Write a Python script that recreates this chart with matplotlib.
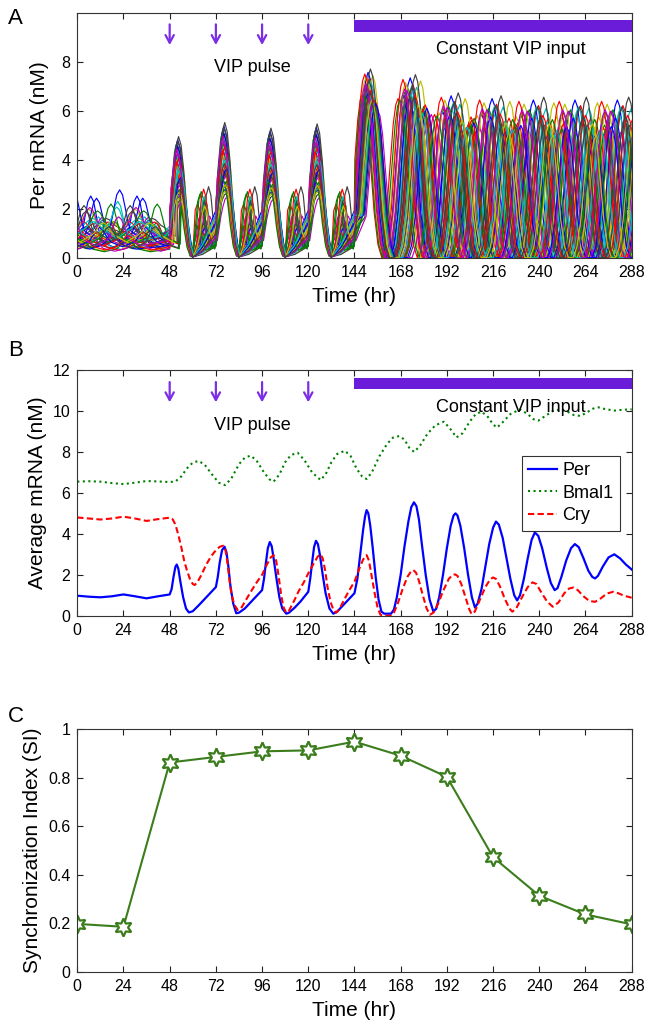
import matplotlib
matplotlib.use('Agg')
import matplotlib.pyplot as plt

plt.rcParams['font.family'] = ['Liberation Sans', 'DejaVu Sans']

# ── shared ─────────────────────────────────────────────────────────────────────
hours = [0, 24, 48, 72, 96, 120, 144, 168, 192, 216, 240, 264, 288]
pulse_times = [48, 72, 96, 120]
purple_bar = '#6a1cd8'
purple_arrow = '#7b2ee6'

# ── panel A: single-cell Per mRNA (42 cells, MATLAB colour cycle) ─────────────
cell_colors = ['#0000ff', '#008000', '#ff0000', '#00bfbf', '#bf00bf', '#bfbf00', '#404040']
rank = [-0.95, 0.42, -0.13, 0.78, -0.61, 0.05, 1.35, -0.37, 0.91, -1.52, 0.23, -0.74, 0.60, -0.05,
        0.33, -0.88, 1.05, -0.22, 0.70, -1.18, 0.12, 0.48, -0.56, 0.86, -0.30, 1.62, -0.81, 0.17,
        -0.45, 0.97, -1.05, 0.28, -0.66, 0.55, -0.17, 1.20, -1.35, 0.08, 0.74, -0.90, 0.38, -0.02]
amp_pulse = [0.92, 0.71, 1.05, 0.63, 0.98, 0.84, 0.55, 1.12, 0.77, 0.88, 0.95, 0.66, 1.02, 0.81,
             0.58, 1.08, 0.74, 0.93, 0.69, 0.86, 1.15, 0.61, 0.97, 0.79, 1.01, 0.52, 0.89, 0.73,
             1.06, 0.65, 0.91, 0.83, 0.99, 0.57, 1.10, 0.76, 0.68, 0.94, 0.87, 1.03, 0.62, 0.80]
amp_vip = [1.02, 0.94, 1.09, 0.90, 1.05, 0.97, 0.88, 1.13, 0.95, 1.00, 1.07, 0.92, 1.11, 0.98,
           0.89, 1.04, 0.96, 1.08, 0.91, 1.01, 1.15, 0.87, 1.06, 0.93, 1.03, 0.90, 1.10, 0.95,
           1.00, 0.92, 1.12, 0.97, 1.05, 0.88, 1.08, 0.94, 0.99, 1.02, 0.91, 1.06, 0.96, 1.01]
pre_base = [0.85, 0.52, 1.10, 0.70, 0.95, 0.40, 1.25, 0.62, 0.88, 1.02, 0.47, 0.76, 1.18, 0.58,
            0.93, 0.35, 0.81, 1.30, 0.66, 0.99, 0.55, 1.07, 0.73, 0.44, 0.90, 1.15, 0.61, 0.83,
            0.50, 1.21, 0.69, 0.97, 0.38, 0.86, 1.04, 0.64, 0.79, 0.45, 1.12, 0.72, 0.92, 0.57]
pre_phase = [4, 17, 9, 21, 12, 1, 15, 7, 19, 3, 11, 14, 6, 20, 10, 2, 16, 8, 13, 18, 5,
             22, 0, 9.5, 15.5, 6.5, 12.5, 3.5, 18.5, 10.5, 1.5, 20.5, 7.5, 14.5, 4.5, 11.5, 17.5,
             2.5, 8.5, 21.5, 13.5, 16.5]
pre_amp = [0.4, 0.9, 0.3, 1.6, 0.5, 0.7, 0.35, 1.9, 0.6, 0.45, 1.2, 0.3, 0.8, 0.55,
           1.5, 0.4, 0.65, 0.3, 1.0, 0.5, 0.75, 1.7, 0.35, 0.6, 0.45, 0.9, 0.25, 1.3,
           0.5, 0.7, 0.4, 1.1, 0.55, 0.3, 0.85, 0.6, 1.4, 0.45, 0.35, 0.95, 0.5, 0.7]
level = [1.2, 0.7, 1.6, 0.9, 1.4, 0.5, 1.8, 1.0, 0.6, 1.3, 1.5, 0.8, 1.1, 0.45,
         1.7, 0.95, 1.25, 0.65, 1.45, 0.85, 1.05, 1.9, 0.55, 1.35, 0.75, 1.15, 1.6, 0.9,
         1.3, 0.6, 1.0, 1.55, 0.8, 1.2, 0.7, 1.4, 0.5, 1.1, 1.75, 0.85, 1.25, 0.95]
minor = [0, 2.4, 0, 1.3, 1.8, 0, 2.9, 0, 1.1, 2.2, 0, 0, 1.5, 0, 1.2, 2.6, 0, 0, 2.0, 0, 1.4,
         0, 2.7, 0, 0, 1.7, 0, 2.3, 0, 1.0, 0, 2.5, 0, 0, 1.9, 0, 1.3, 2.8, 0, 0, 2.1, 0]

pulse_heights = [4.3, 4.8, 4.6, 4.75]
vip_peaks = [152, 175, 197, 219, 241, 263, 285, 307]
vip_spread = [2.5, 5.5, 7.5, 9.5, 11, 12, 12, 12]
vip_heights = [6.7, 6.5, 5.85, 5.75, 5.7, 5.7, 5.7, 5.7]

# peak shapes (offset in hr, fraction of peak height)
bump_dt = [-6, -4.5, -3, -1.5, 0, 1.5, 3, 4.5, 6]
bump_fr = [0.0, 0.2, 0.55, 0.88, 1.0, 0.88, 0.55, 0.2, 0.0]
resp_dt = [-3.5, -2.5, -1.2, 0, 1.3, 2.7, 4.2, 5.8, 7.5]
resp_fr = [0.35, 0.65, 0.92, 1.0, 0.93, 0.72, 0.4, 0.14, 0.02]
vip_dt = [-10, -8, -6, -4, -2.5, -1.2, 0, 1.2, 2.5, 4, 6, 8, 10]
vip_fr = [0.0, 0.08, 0.28, 0.6, 0.84, 0.96, 1.0, 0.96, 0.84, 0.6, 0.28, 0.08, 0.0]

# ── panel B: population averages ───────────────────────────────────────────────
per_t = [0, 6, 12, 18, 24, 30, 36, 42, 48, 49, 50, 51, 51.7, 52.5, 53.5, 55, 56.5, 58, 60, 63,
         66, 69, 72, 73, 74, 75.2, 76.5, 77.5, 78.5, 79.5, 81, 82.6, 84, 87, 90, 93, 96, 97, 98,
         99, 100, 101, 102, 103.5, 105, 106.5, 108.6, 110, 113, 116, 119, 120, 121, 122, 123, 124,
         125, 126, 127.5, 129, 131, 133, 135, 138, 141, 144, 145.5, 147, 148.5, 149.5, 150.3,
         151.2, 152.2, 153.5, 155, 156.5, 158, 159.5, 163, 164.5, 166, 168, 170, 172, 173.5,
         174.9, 176.2, 177.5, 179, 181, 183, 185, 186.5, 188, 190, 192, 194, 195.5, 196.5, 197.5,
         199, 201, 203, 205, 206.6, 208, 210, 212, 214, 216, 217.5, 219, 221, 223, 225, 227,
         228.5, 230, 232, 234, 236, 237.7, 239.5, 241.5, 244, 246, 248, 249.5, 251.5, 254, 256.5,
         258.5, 260.5, 263, 265.5, 267.5, 269, 270.5, 273, 276, 279, 282, 285, 288]
per_v = [0.98, 0.93, 0.9, 0.95, 1.04, 0.95, 0.85, 0.95, 1.04, 1.3, 1.9, 2.4, 2.5, 2.3, 1.7, 0.9,
         0.35, 0.16, 0.22, 0.5, 0.8, 1.1, 1.4, 1.9, 2.6, 3.2, 3.37, 3.1, 2.4, 1.5, 0.6, 0.12, 0.15,
         0.35, 0.65, 0.95, 1.25, 1.8, 2.6, 3.3, 3.6, 3.4, 2.8, 1.8, 0.9, 0.35, 0.1, 0.15, 0.4, 0.7,
         1.05, 1.17, 1.8, 2.6, 3.35, 3.66, 3.5, 3.0, 2.0, 1.1, 0.35, 0.1, 0.2, 0.5, 0.8, 1.1, 1.8,
         3.0, 4.2, 4.85, 5.16, 5.0, 4.4, 3.3, 1.9, 0.8, 0.2, 0.1, 0.1, 0.3, 0.9, 2.0, 3.4, 4.6,
         5.3, 5.54, 5.35, 4.7, 3.5, 2.0, 0.8, 0.2, 0.35, 0.9, 2.0, 3.3, 4.4, 4.9, 5.0, 4.9, 4.4,
         3.3, 2.0, 0.9, 0.4, 0.6, 1.3, 2.4, 3.5, 4.3, 4.6, 4.45, 3.8, 2.8, 1.8, 1.0, 0.75, 1.0,
         1.8, 2.8, 3.7, 4.07, 3.9, 3.3, 2.3, 1.6, 1.25, 1.35, 1.9, 2.7, 3.3, 3.5, 3.35, 2.8, 2.2,
         1.9, 1.82, 1.95, 2.4, 2.85, 3.0, 2.8, 2.5, 2.26]

cry_t = [0, 6, 12, 18, 24, 30, 36, 42, 48, 49.5, 51, 52.5, 54, 55.5, 57, 58.5, 60, 61, 62.5, 64.5,
         67, 69.5, 72, 74, 75.8, 77, 78, 79, 80, 81.5, 83.3, 85, 87.5, 90, 93, 96, 98.5, 100.5, 102,
         103.3, 104.5, 105.8, 107, 108.5, 110, 112.5, 115, 117.5, 120, 122.5, 125, 126.4, 127.5,
         128.8, 130, 131.5, 133, 134.5, 136, 138.5, 141, 144, 146.5, 148.5, 150.3, 151.5, 153,
         154.5, 156, 157.5, 159, 163, 164.5, 166.5, 169, 171.5, 173.5, 174.6, 176, 177.5, 179.5,
         181.5, 183.2, 185, 187.5, 190, 193, 195, 196.2, 197.5, 199.5, 201.5, 203.5, 204.8, 206.5,
         209, 212, 214.5, 216, 217.5, 219.5, 222, 224.5, 226, 228, 231, 234, 236.5, 238.5, 241, 244,
         247, 250, 253, 255.5, 257.7, 260, 263, 266, 269, 272, 275, 278.4, 281, 284, 288]
cry_v = [4.8, 4.75, 4.7, 4.75, 4.84, 4.75, 4.63, 4.72, 4.79, 4.72, 4.45, 3.95, 3.37, 2.7, 2.2, 1.8,
         1.55, 1.5, 1.65, 2.0, 2.5, 2.9, 3.2, 3.37, 3.42, 3.2, 2.6, 1.8, 1.1, 0.55, 0.28, 0.35, 0.75,
         1.15, 1.6, 2.0, 2.5, 2.85, 2.96, 2.7, 2.0, 1.1, 0.45, 0.15, 0.25, 0.7, 1.2, 1.6, 2.07, 2.5,
         2.9, 3.0, 2.8, 2.2, 1.4, 0.7, 0.3, 0.15, 0.3, 0.75, 1.2, 1.66, 2.3, 2.75, 2.96, 2.7, 1.9,
         1.1, 0.4, 0.05, 0.0, 0.0, 0.15, 0.6, 1.3, 1.9, 2.18, 2.23, 2.1, 1.7, 1.0, 0.35, 0.05, 0.15,
         0.6, 1.2, 1.8, 2.0, 2.02, 1.95, 1.55, 0.95, 0.35, 0.08, 0.2, 0.75, 1.4, 1.78, 1.87, 1.8,
         1.45, 0.85, 0.35, 0.2, 0.35, 0.9, 1.4, 1.63, 1.55, 1.15, 0.7, 0.44, 0.65, 1.1, 1.33, 1.38,
         1.25, 0.95, 0.72, 0.68, 0.85, 1.08, 1.17, 1.1, 0.98, 0.88]

bmal_t = [0, 6, 12, 18, 24, 30, 36, 42, 48, 51, 54, 57, 60, 62.9, 66, 70, 73.5, 76.8, 80, 84, 87,
          90, 93, 97, 100, 102, 105, 108, 111, 114.5, 118, 122, 126.4, 129, 132, 135, 139, 142,
          145, 148, 150.3, 153, 157, 161, 164, 167.3, 170, 172.5, 175, 178, 182, 186, 190.5, 194,
          197, 200, 204, 207, 210, 213, 216, 218, 221, 225, 230, 234, 237, 239.5, 243, 247, 251,
          255, 258, 261.5, 265, 268, 270.7, 274, 279, 283, 288]
bmal_v = [6.55, 6.57, 6.55, 6.48, 6.43, 6.5, 6.58, 6.56, 6.53, 6.56, 6.8, 7.2, 7.48, 7.56, 7.4,
          6.9, 6.5, 6.38, 6.7, 7.4, 7.72, 7.82, 7.6, 7.0, 6.65, 6.55, 6.9, 7.5, 7.85, 7.96, 7.6,
          7.0, 6.63, 6.9, 7.5, 7.9, 8.06, 7.8, 7.2, 6.8, 6.68, 7.0, 7.8, 8.4, 8.7, 8.78, 8.6, 8.2,
          8.0, 8.3, 8.9, 9.3, 9.48, 9.1, 8.71, 8.9, 9.5, 9.85, 9.97, 9.75, 9.35, 9.19, 9.45, 9.85,
          10.08, 9.85, 9.6, 9.53, 9.75, 10.0, 10.08, 9.95, 9.8, 9.76, 9.95, 10.12, 10.18, 10.1,
          10.02, 10.06, 10.08]

# ── panel C: synchronization index ─────────────────────────────────────────────
si_values = [0.197, 0.185, 0.862, 0.885, 0.908, 0.912, 0.948, 0.890, 0.803, 0.472, 0.313, 0.236, 0.195]


def cell_trace(c):
    pts = []

    def add(t, v):
        if not pts or t > pts[-1][0]:
            pts.append((t, max(v, 0.0)))

    b, w, p, r, L = pre_base[c], pre_amp[c], pre_phase[c], rank[c], level[c]
    add(-10, b)
    for tc in [p - 24, p, p + 24]:
        if tc + 6 > 47.5:
            continue
        for dt, f in zip(bump_dt, bump_fr):
            add(tc + dt, b + f * w)
        add(tc + 12, 0.7 * b)
    v_prev = b
    for k, T in enumerate(pulse_times):
        add(T, v_prev)
        tp = T + 4.5 + 0.9 * r
        H = pulse_heights[k] * amp_pulse[c]
        for dt, f in zip(resp_dt, resp_fr):
            add(tp + dt, v_prev + f * (H - v_prev) if dt < 0 else f * H)
        add(T + 12, 0.03)
        if minor[c] > 0:
            tb = T + 17.5 + 2 * r
            add(tb - 4, 0.35 * L)
            add(tb - 2.5, 0.45 * minor[c])
            add(tb - 1.2, 0.88 * minor[c])
            add(tb, minor[c])
            add(tb + 1.2, 0.88 * minor[c])
            add(tb + 2.5, 0.5 * minor[c])
            add(tb + 4, 0.6 * L)
        else:
            add(T + 17, 0.3 * L)
        add(T + 23.8, L)
        v_prev = L
    for j, tc in enumerate(vip_peaks):
        tp = tc + r * vip_spread[j]
        H = vip_heights[j] * amp_vip[c]
        start = 2 if j == 0 else 0
        for dt, f in zip(vip_dt[start:], vip_fr[start:]):
            add(tp + dt, f * H)
    return [q[0] for q in pts], [q[1] for q in pts]


def style_axes(ax):
    ax.set_xlim(0, 288)
    ax.set_xticks(hours)
    ax.tick_params(direction='in', top=True, right=True, length=4, width=0.8,
                   labelsize=11.5, pad=5, colors='#222222', labelcolor='black')
    for s in ax.spines.values():
        s.set_linewidth(0.8)
        s.set_color('#333333')
    ax.set_xlabel('Time (hr)', fontsize=15, labelpad=5)


fig = plt.figure(figsize=(6.51, 10.3), dpi=100)
axA = fig.add_axes([0.1187, 0.7498, 0.8516, 0.2373])
axB = fig.add_axes([0.1187, 0.4022, 0.8516, 0.2385])
axC = fig.add_axes([0.1187, 0.0566, 0.8516, 0.2356])

# ── A ──
for c in range(len(rank)):
    tt, vv = cell_trace(c)
    axA.plot(tt, vv, color=cell_colors[c % 7], lw=0.85)
style_axes(axA)
axA.set_ylim(0, 9.98)
axA.set_yticks([0, 2, 4, 6, 8])
axA.set_ylabel('Per mRNA (nM)', fontsize=15, labelpad=9)
for T in pulse_times:
    axA.annotate('', xy=(T, 8.57), xytext=(T, 9.64),
                 arrowprops=dict(arrowstyle='->,head_width=0.3,head_length=0.55',
                                 color=purple_arrow, lw=1.6))
axA.barh(9.445, 144, left=144, height=0.49, color=purple_bar, zorder=3)
axA.text(91, 7.76, 'VIP pulse', fontsize=13, ha='center', va='center')
axA.text(225, 8.52, 'Constant VIP input', fontsize=13, ha='center', va='center')

# ── B ──
axB.plot(per_t, per_v, color='#0000ff', lw=1.6, label='Per')
axB.plot(bmal_t, bmal_v, color='#008000', lw=1.5, ls=':', label='Bmal1')
axB.plot(cry_t, cry_v, color='#ff0000', lw=1.5, ls='--', dashes=(3, 1.6), label='Cry')
style_axes(axB)
axB.set_ylim(0, 12)
axB.set_yticks([0, 2, 4, 6, 8, 10, 12])
axB.set_ylabel('Average mRNA (nM)', fontsize=15, labelpad=4)
for T in pulse_times:
    axB.annotate('', xy=(T, 10.29), xytext=(T, 11.55),
                 arrowprops=dict(arrowstyle='->,head_width=0.3,head_length=0.55',
                                 color=purple_arrow, lw=1.6))
axB.barh(11.345, 144, left=144, height=0.57, color=purple_bar, zorder=3)
axB.text(91, 9.3, 'VIP pulse', fontsize=13, ha='center', va='center')
axB.text(225, 10.18, 'Constant VIP input', fontsize=13, ha='center', va='center')
leg = axB.legend(loc='upper right', bbox_to_anchor=(0.979, 0.65), fontsize=13,
                 frameon=True, fancybox=False, handlelength=1.6, borderpad=0.35,
                 labelspacing=0.3, handletextpad=0.3, borderaxespad=0)
leg.get_frame().set_edgecolor('black')
leg.get_frame().set_linewidth(0.8)

# ── C ──
axC.plot(hours, si_values, color='#3b7d1c', lw=1.5, marker=(6, 1, 0), ms=13,
         mfc='white', mec='#3b7d1c', mew=1.6)
style_axes(axC)
axC.set_ylim(0, 1)
axC.set_yticks([0, 0.2, 0.4, 0.6, 0.8, 1.0])
axC.set_yticklabels(['0', '0.2', '0.4', '0.6', '0.8', '1'])
axC.set_ylabel('Synchronization Index (SI)', fontsize=15, labelpad=4)

fig.text(0.012, 0.982, 'A', fontsize=16, va='center')
fig.text(0.012, 0.660, 'B', fontsize=16, va='center')
fig.text(0.012, 0.304, 'C', fontsize=16, va='center')

fig.savefig('out.png', dpi=100)
